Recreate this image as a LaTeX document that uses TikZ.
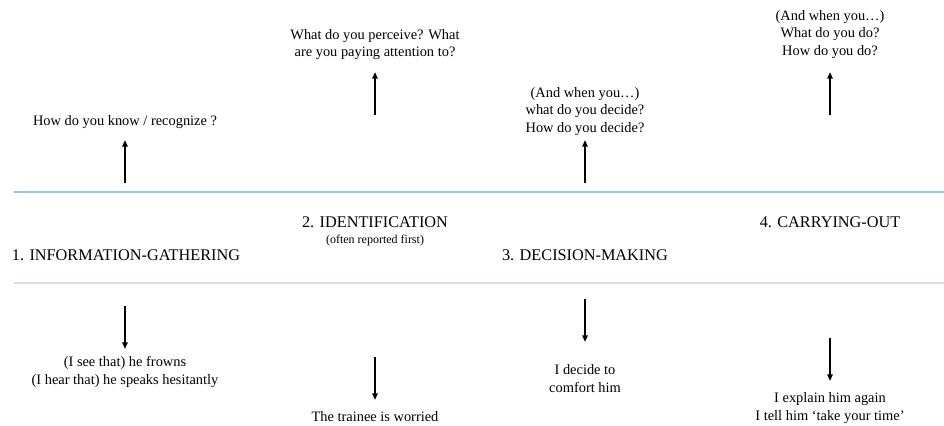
\documentclass[tikz,border=0pt]{standalone}
\usepackage{fontspec}
\setmainfont{Liberation Serif}
\usetikzlibrary{arrows.meta}
\definecolor{lineblue}{HTML}{9DC3E6}
\definecolor{linegrey}{HTML}{D3DCE8}
\begin{document}
\begin{tikzpicture}[x=0.75pt,y=-0.75pt,
  question/.style={align=center,font=\fontsize{10.8}{13.1}\selectfont,inner sep=0pt},
  stage/.style={align=center,font=\fontsize{12.2}{14.5}\selectfont,inner sep=0pt},
  note/.style={align=center,font=\fontsize{9}{11}\selectfont,inner sep=0pt},
  arr/.style={line width=1.3pt,-{Triangle[length=5pt,width=4pt]}}]
\useasboundingbox (0,0) rectangle (944,425);
% separator lines
\coordinate (l1a) at (14,192); \coordinate (l1b) at (944,192);
\coordinate (l2a) at (14,283); \coordinate (l2b) at (944,283);
\draw[lineblue,line width=0.9pt] (l1a) -- (l1b);
\draw[linegrey,line width=0.9pt] (l2a) -- (l2b);
% stages
\node[stage] (s1) at (126,255) {1. INFORMATION-GATHERING};
\node[stage] (s2) at (375,222) {2. IDENTIFICATION};
\node[note] (s2n) at (375,241) {(often reported first)};
\node[stage] (s3) at (585,255) {3. DECISION-MAKING};
\node[stage] (s4) at (830,222) {4. CARRYING-OUT};
% questions
\node[question] (q1) at (125,122) {How do you know / recognize ?};
\node[question] (q2) at (375,44.5) {What do you perceive? What\\are you paying attention to?};
\node[question] (q3) at (585,111.5) {(And when you…)\\what do you decide?\\How do you decide?};
\node[question] (q4) at (830,34.5) {(And when you…)\\What do you do?\\How do you do?};
% examples
\node[question] (e1) at (125,372) {(I see that) he frowns\\(I hear that) he speaks hesitantly};
\node[question] (e2) at (375,417) {The trainee is worried};
\node[question] (e3) at (585,378.5) {I decide to\\comfort him};
\node[question] (e4) at (830,408) {I explain him again\\I tell him ‘take your time’};
% up arrows
\coordinate (u1a) at (125,183); \coordinate (u1b) at (125,140);
\coordinate (u2a) at (375,115); \coordinate (u2b) at (375,72);
\coordinate (u3a) at (585,183); \coordinate (u3b) at (585,140);
\coordinate (u4a) at (830,115); \coordinate (u4b) at (830,72);
\draw[arr] (u1a) -- (u1b);
\draw[arr] (u2a) -- (u2b);
\draw[arr] (u3a) -- (u3b);
\draw[arr] (u4a) -- (u4b);
% down arrows
\coordinate (d1a) at (125,306); \coordinate (d1b) at (125,349);
\coordinate (d2a) at (375,357); \coordinate (d2b) at (375,400);
\coordinate (d3a) at (585,299); \coordinate (d3b) at (585,342);
\coordinate (d4a) at (830,338); \coordinate (d4b) at (830,381);
\draw[arr] (d1a) -- (d1b);
\draw[arr] (d2a) -- (d2b);
\draw[arr] (d3a) -- (d3b);
\draw[arr] (d4a) -- (d4b);
\end{tikzpicture}
\end{document}
